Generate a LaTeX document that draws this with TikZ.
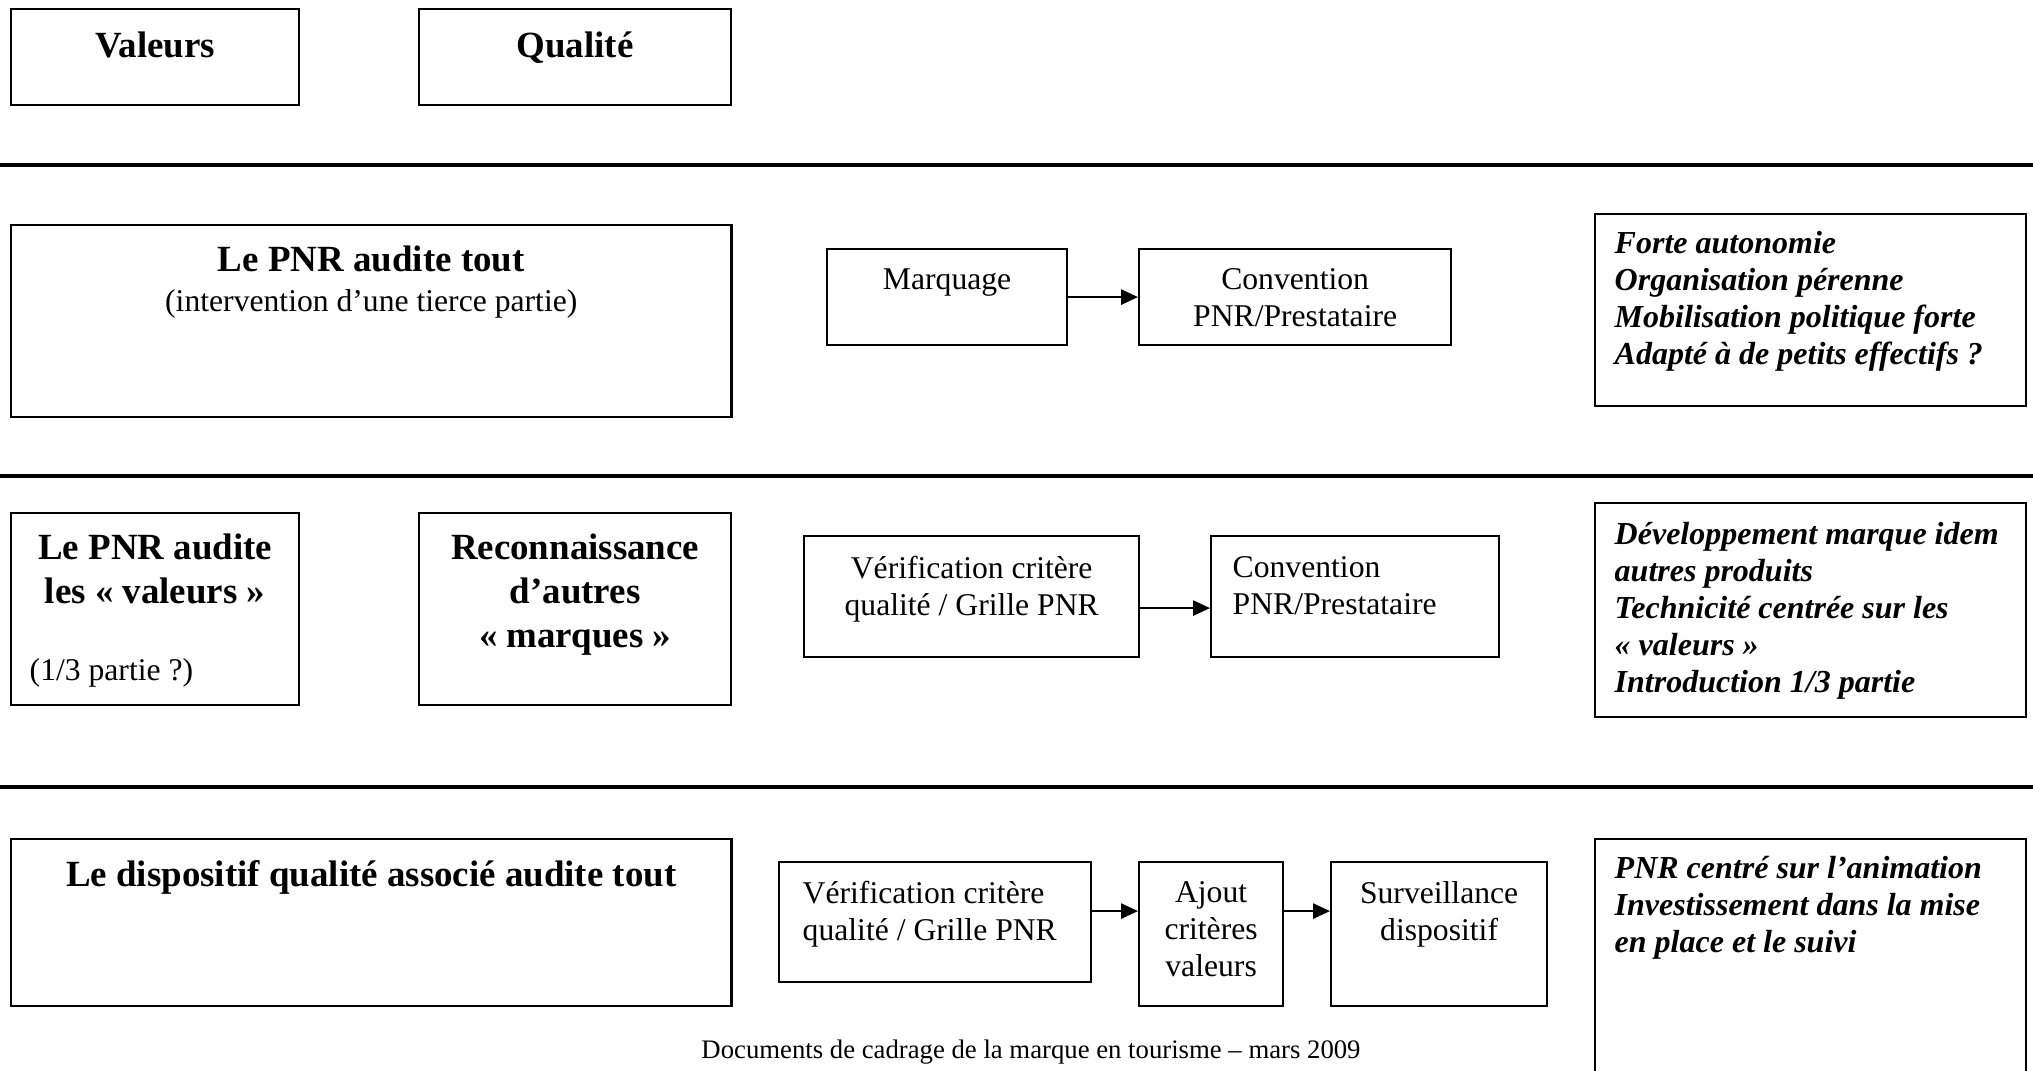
\documentclass[tikz,border=0pt]{standalone}
\usepackage{fontspec}
\setmainfont{Liberation Serif}
\usepackage{tikz}
\usetikzlibrary{arrows.meta,positioning}

\newcommand{\headfont}{\fontsize{10.5}{12.5}\selectfont\bfseries}
\newcommand{\plainfont}{\fontsize{9}{10.5}\selectfont}
\newcommand{\notefont}{\fontsize{9.1}{10.5}\selectfont\bfseries\itshape}
\newcommand{\footfont}{\fontsize{7.6}{9}\selectfont}

\begin{document}
\begin{tikzpicture}[x=0.01cm, y=-0.01cm,
    box/.style={draw, line width=0.6pt, inner sep=0pt, anchor=north west},
    head/.style={font=\headfont, align=center, inner sep=0pt},
    plain/.style={font=\plainfont, align=center, inner sep=0pt},
    plainleft/.style={font=\plainfont, align=left, inner sep=0pt},
    note/.style={font=\notefont, align=left, inner sep=0pt},
    flow/.style={-{Triangle[length=4.8pt,width=4.3pt]}, line width=0.6pt},
    sepline/.style={line width=0.9pt}]
    \useasboundingbox (0,0) rectangle (2033,1071);
    \clip (0,0) rectangle (2033,1071);

    % first row
    \node[box, minimum width=2.88cm, minimum height=0.96cm] (val) at (10,8) {};
    \node[box, minimum width=3.12cm, minimum height=0.96cm] (qual) at (418,8) {};
    \node[head, below=0.23cm of val.north] (valt) {Valeurs};
    \node[head, below=0.23cm of qual.north] (qualt) {Qualité};

    \foreach \y in {165,476,787}
        \draw[sepline] (0,\y) -- (2033,\y);

    % le PNR audite tout
    \node[box, minimum width=7.2cm, minimum height=1.92cm] (pnr) at (10,224) {};
    \node[plain, below=0.21cm of pnr.north] (pnrt) {{\headfont Le PNR audite tout}\\[0.8pt](intervention d’une tierce partie)};
    \node[box, minimum width=2.4cm, minimum height=0.96cm] (marq) at (826,248) {};
    \node[box, minimum width=3.12cm, minimum height=0.96cm] (conv) at (1138,248) {};
    \node[plain, below=0.2cm of marq.north] (marqt) {Marquage};
    \node[plain, below=0.2cm of conv.north] (convt) {Convention\\PNR/Prestataire};
    \draw[flow] (marq) -- (conv);
    \node[box, minimum width=4.31cm, minimum height=1.92cm] (nota) at (1594,213) {};
    \node[note, below right=0.18cm and 0.2cm of nota.north west] (notat) {Forte autonomie\\Organisation pérenne\\Mobilisation politique forte\\Adapté à de petits effectifs ?};

    % le PNR audite les valeurs
    \node[box, minimum width=2.88cm, minimum height=1.92cm] (aval) at (10,512) {};
    \node[head, below=0.21cm of aval.north] (avalt) {Le PNR audite\\les «~valeurs~»};
    \node[plainleft, below right=1.46cm and 0.19cm of aval.north west] (partt) {(1/3 partie ?)};
    \node[box, minimum width=3.12cm, minimum height=1.92cm] (reco) at (418,512) {};
    \node[head, below=0.21cm of reco.north] (recot) {Reconnaissance\\d’autres\\«~marques~»};
    \node[box, minimum width=3.35cm, minimum height=1.21cm] (vera) at (803,535) {};
    \node[box, minimum width=2.88cm, minimum height=1.21cm] (convb) at (1210,535) {};
    \node[plain, below=0.21cm of vera.north] (verat) {Vérification critère\\qualité / Grille PNR};
    \node[plainleft, below right=0.21cm and 0.22cm of convb.north west] (convbt) {Convention\\PNR/Prestataire};
    \draw[flow] ([yshift=-0.115cm]vera.east) -- ([yshift=-0.115cm]vera.east -| convb.west);
    \node[box, minimum width=4.31cm, minimum height=2.14cm] (notb) at (1594,502) {};
    \node[note, below right=0.2cm and 0.2cm of notb.north west] (notbt) {Développement marque idem\\autres produits\\Technicité centrée sur les\\«~valeurs~»\\Introduction 1/3 partie};

    % le dispositif qualite
    \node[box, minimum width=7.2cm, minimum height=1.67cm] (disp) at (10,838) {};
    \node[head, below=0.22cm of disp.north] (dispt) {Le dispositif qualité associé audite tout};
    \node[box, minimum width=3.12cm, minimum height=1.2cm] (verb) at (778,861) {};
    \node[box, minimum width=1.44cm, minimum height=1.44cm] (ajout) at (1138,861) {};
    \node[box, minimum width=2.16cm, minimum height=1.44cm] (surv) at (1330,861) {};
    \node[plainleft, below right=0.2cm and 0.24cm of verb.north west] (verbt) {Vérification critère\\qualité / Grille PNR};
    \node[plain, below=0.2cm of ajout.north] (ajoutt) {Ajout\\critères\\valeurs};
    \node[plain, below=0.2cm of surv.north] (survt) {Surveillance\\dispositif};
    \draw[flow] ([yshift=0.11cm]verb.east) -- ([yshift=0.11cm]verb.east -| ajout.west);
    \draw[flow] ([yshift=0.23cm]ajout.east) -- ([yshift=0.23cm]ajout.east -| surv.west);
    \node[box, minimum width=4.31cm, minimum height=2.6cm] (notc) at (1594,838) {};
    \node[note, below right=0.18cm and 0.2cm of notc.north west] (notct) {PNR centré sur l’animation\\Investissement dans la mise\\en place et le suivi};

    \node[font=\footfont, inner sep=0pt, anchor=north] (foot) at (1031,1039) {Documents de cadrage de la marque en tourisme – mars 2009};
\end{tikzpicture}
\end{document}
